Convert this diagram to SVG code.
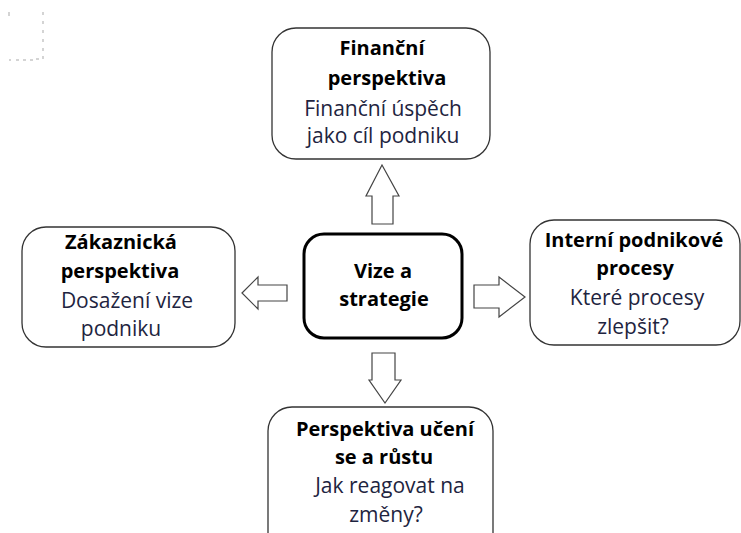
<svg xmlns="http://www.w3.org/2000/svg" width="741" height="533" viewBox="0 0 741 533">
<style>
.box{fill:#fff;stroke:#333;stroke-width:1.3}
.main{fill:#fff;stroke:#000;stroke-width:3}
.arrow{fill:#fff;stroke:#444;stroke-width:1.2;stroke-linejoin:miter}
.t{font-family:"Open Sans","Noto Sans",sans-serif;font-size:21px;text-anchor:middle;fill:#1e2440}
.b{font-family:"Open Sans","Noto Sans",sans-serif;font-size:20px;font-weight:bold;text-anchor:middle;fill:#000}
.mark{fill:#d4d4d4}
</style>
<rect width="741" height="533" fill="#fff"/>
<g id="cropmark">
<rect class="mark" x="8" y="12" width="2" height="4"/>
<rect class="mark" x="42" y="12" width="2" height="3"/>
<rect class="mark" x="42" y="21" width="2" height="3"/>
<rect class="mark" x="42" y="30" width="2" height="3"/>
<rect class="mark" x="42" y="39" width="2" height="3"/>
<rect class="mark" x="42" y="48" width="2" height="3"/>
<rect class="mark" x="42" y="56" width="2" height="3"/>
<rect class="mark" x="9" y="59" width="2" height="2"/>
<rect class="mark" x="16" y="59" width="3" height="2"/>
<rect class="mark" x="23" y="59" width="3" height="2"/>
<rect class="mark" x="30" y="59" width="3" height="2"/>
<rect class="mark" x="36" y="58" width="3" height="2"/>
</g>
<g id="connectors">
<polygon class="arrow" points="382,165 399,196 393,196 393,224 372,224 372,196 366,196"/>
<polygon class="arrow" points="242,293 258,277 258,285 287,285 287,301 258,301 258,309"/>
<polygon class="arrow" points="474,285 499,285 499,277 525,297 499,317 499,308 474,308"/>
<polygon class="arrow" points="372,353 395,353 395,380 401,380 385,403 369,380 372,380"/>
</g>
<g id="financni">
<rect class="box" x="272" y="28" width="218" height="131" rx="24"/>
<text class="b" x="382" y="55">Finanční</text>
<text class="b" x="387" y="85">perspektiva</text>
<text class="t" x="383" y="116">Finanční úspěch</text>
<text class="t" x="383" y="143">jako cíl podniku</text>
</g>
<g id="zakaznicka">
<rect class="box" x="22" y="227" width="213" height="120" rx="24"/>
<text class="b" x="121" y="249">Zákaznická</text>
<text class="b" x="120" y="278">perspektiva</text>
<text class="t" x="127" y="308">Dosažení vize</text>
<text class="t" x="121" y="336">podniku</text>
</g>
<g id="vize">
<rect class="main" x="304" y="234" width="158" height="104" rx="20"/>
<text class="b" x="383" y="278">Vize a</text>
<text class="b" x="384" y="306">strategie</text>
</g>
<g id="interni">
<rect class="box" x="530" y="220" width="210" height="125" rx="24"/>
<text class="b" x="634" y="247">Interní podnikové</text>
<text class="b" x="635" y="275">procesy</text>
<text class="t" x="637" y="305">Které procesy</text>
<text class="t" x="633" y="334">zlepšit?</text>
</g>
<g id="uceni">
<rect class="box" x="268" y="407" width="225" height="150" rx="24"/>
<text class="b" x="385" y="436">Perspektiva učení</text>
<text class="b" x="384" y="464">se a růstu</text>
<text class="t" x="390" y="493">Jak reagovat na</text>
<text class="t" x="386" y="522">změny?</text>
</g>
</svg>
